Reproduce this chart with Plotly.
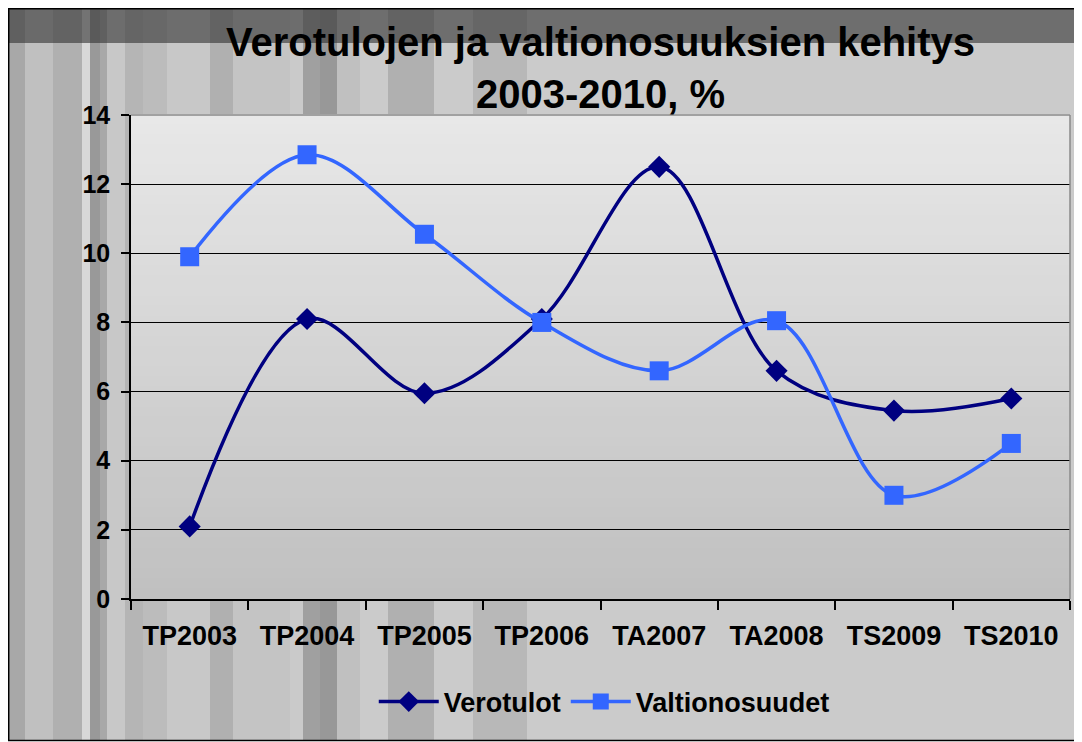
import plotly.graph_objects as go

categories = ["TP2003", "TP2004", "TP2005", "TP2006", "TA2007", "TA2008", "TS2009", "TS2010"]
verotulot = [2.1, 8.1, 5.95, 8.1, 12.5, 6.6, 5.45, 5.8]
valtionosuudet = [9.9, 12.85, 10.55, 8.0, 6.6, 8.05, 3.0, 4.5]
y_ticks = [0, 2, 4, 6, 8, 10, 12, 14]

# the page body adds an 8px offset; figure coordinates = screen - 8
OFF = 8
W, H = 1082 - OFF, 742 - OFF
L, R, T, B = 131 - OFF, 1070 - OFF, 115 - OFF, 599 - OFF
FONT = "Liberation Sans, Arial, sans-serif"

def px(x):
    return (x - OFF - L) / (R - L)

def py(y):
    return (B - (y - OFF)) / (B - T)

shapes = []
shapes.append(dict(type="rect", xref="paper", yref="paper", x0=px(0), x1=px(1100), y0=py(0), y1=py(741),
                   fillcolor="#cbcbcb", line=dict(width=0), layer="below"))
stripes = [
    (7, 25, "#a8a8a8"), (25, 53, "#c0c0c0"), (53, 82, "#b0b0b0"), (82, 90, "#d8d8d8"),
    (90, 100, "#999999"), (100, 107, "#a8a8a8"), (107, 125, "#c8c8c8"), (125, 143, "#b5b5b5"),
    (143, 167, "#bcbcbc"), (167, 210, "#c8c8c8"), (210, 233, "#b0b0b0"), (233, 290, "#c4c4c4"),
    (290, 303, "#cacaca"), (303, 320, "#a0a0a0"), (320, 337, "#989898"), (337, 360, "#c0c0c0"),
    (388, 434, "#b0b0b0"), (473, 527, "#b8b8b8"),
]
for x0, x1, c in stripes:
    shapes.append(dict(type="rect", xref="paper", yref="paper", x0=px(x0), x1=px(x1), y0=py(0), y1=py(741),
                       fillcolor=c, line=dict(width=0), layer="below"))
shapes.append(dict(type="rect", xref="paper", yref="paper", x0=px(0), x1=px(1100), y0=py(0), y1=py(43),
                   fillcolor="rgba(50,50,50,0.61)", line=dict(width=0), layer="below"))
shapes.append(dict(type="rect", xref="paper", yref="paper", x0=px(8.7), x1=px(1100), y0=py(8.7), y1=py(740.5),
                   fillcolor="rgba(0,0,0,0)", line=dict(color="black", width=1.5), layer="below"))
n = 48
for i in range(n):
    f = i / (n - 1)
    v = int(round(232 - 40 * f))
    shapes.append(dict(type="rect", xref="x domain", yref="y domain", x0=0, x1=1,
                       y0=1 - (i + 1) / n, y1=1 - i / n + 0.002,
                       fillcolor=f"rgb({v},{v},{v})", line=dict(width=0), layer="below"))
shapes.append(dict(type="line", xref="x domain", yref="y domain", x0=0, x1=1, y0=1, y1=1,
                   line=dict(color="#8a8a8a", width=1.5), layer="above"))
shapes.append(dict(type="line", xref="x domain", yref="y domain", x0=1, x1=1, y0=0, y1=1,
                   line=dict(color="#8a8a8a", width=1.5), layer="above"))

fig = go.Figure()
fig.add_trace(go.Scatter(
    x=categories, y=verotulot, name="Verotulot", mode="lines+markers",
    line=dict(color="#000080", width=3.5, shape="spline", smoothing=1.0),
    marker=dict(symbol="diamond", size=17, color="#000080"),
))
fig.add_trace(go.Scatter(
    x=categories, y=valtionosuudet, name="Valtionosuudet", mode="lines+markers",
    line=dict(color="#3366ff", width=3.5, shape="spline", smoothing=1.0),
    marker=dict(symbol="square", size=19, color="#3366ff"),
))

fig.update_layout(
    width=W, height=H,
    margin=dict(l=L, r=W - R, t=T, b=H - B, autoexpand=False),
    paper_bgcolor="white",
    plot_bgcolor="rgba(0,0,0,0)",
    font=dict(family=FONT, color="black", size=24, weight="bold"),
    title=dict(text="Verotulojen ja valtionosuuksien kehitys<br>2003-2010, %",
               x=0.5, xref="paper", xanchor="center",
               y=1 - 47.5 / H, yref="container", yanchor="middle",
               font=dict(family=FONT, size=40, color="black", weight="bold")),
    showlegend=True,
    legend=dict(orientation="h", x=0.504, xanchor="center", y=py(702), yanchor="middle",
                font=dict(family=FONT, size=27, color="black", weight="bold"),
                bgcolor="rgba(0,0,0,0)", itemwidth=60, traceorder="normal"),
    shapes=shapes,
    hovermode=False,
)
fig.update_xaxes(
    type="category", categoryorder="array", categoryarray=categories,
    showgrid=False, showline=True, linecolor="black", linewidth=1.5,
    ticks="outside", tickson="boundaries", ticklen=9, tickcolor="black", tickwidth=1.5,
    tickfont=dict(family=FONT, size=27, color="black", weight="bold"),
    ticklabelstandoff=12,
    range=[-0.5, 7.5], fixedrange=True, zeroline=False,
)
fig.update_yaxes(
    range=[0, 14], tickmode="array", tickvals=y_ticks, ticktext=[str(v) for v in y_ticks],
    showgrid=True, gridcolor="black", gridwidth=1,
    showline=True, linecolor="black", linewidth=1.5,
    ticks="outside", ticklen=8, tickcolor="black", tickwidth=1.5,
    tickfont=dict(family=FONT, size=25, color="black", weight="bold"),
    ticklabelstandoff=6,
    zeroline=False, fixedrange=True,
)

fig.write_html("out.html")
